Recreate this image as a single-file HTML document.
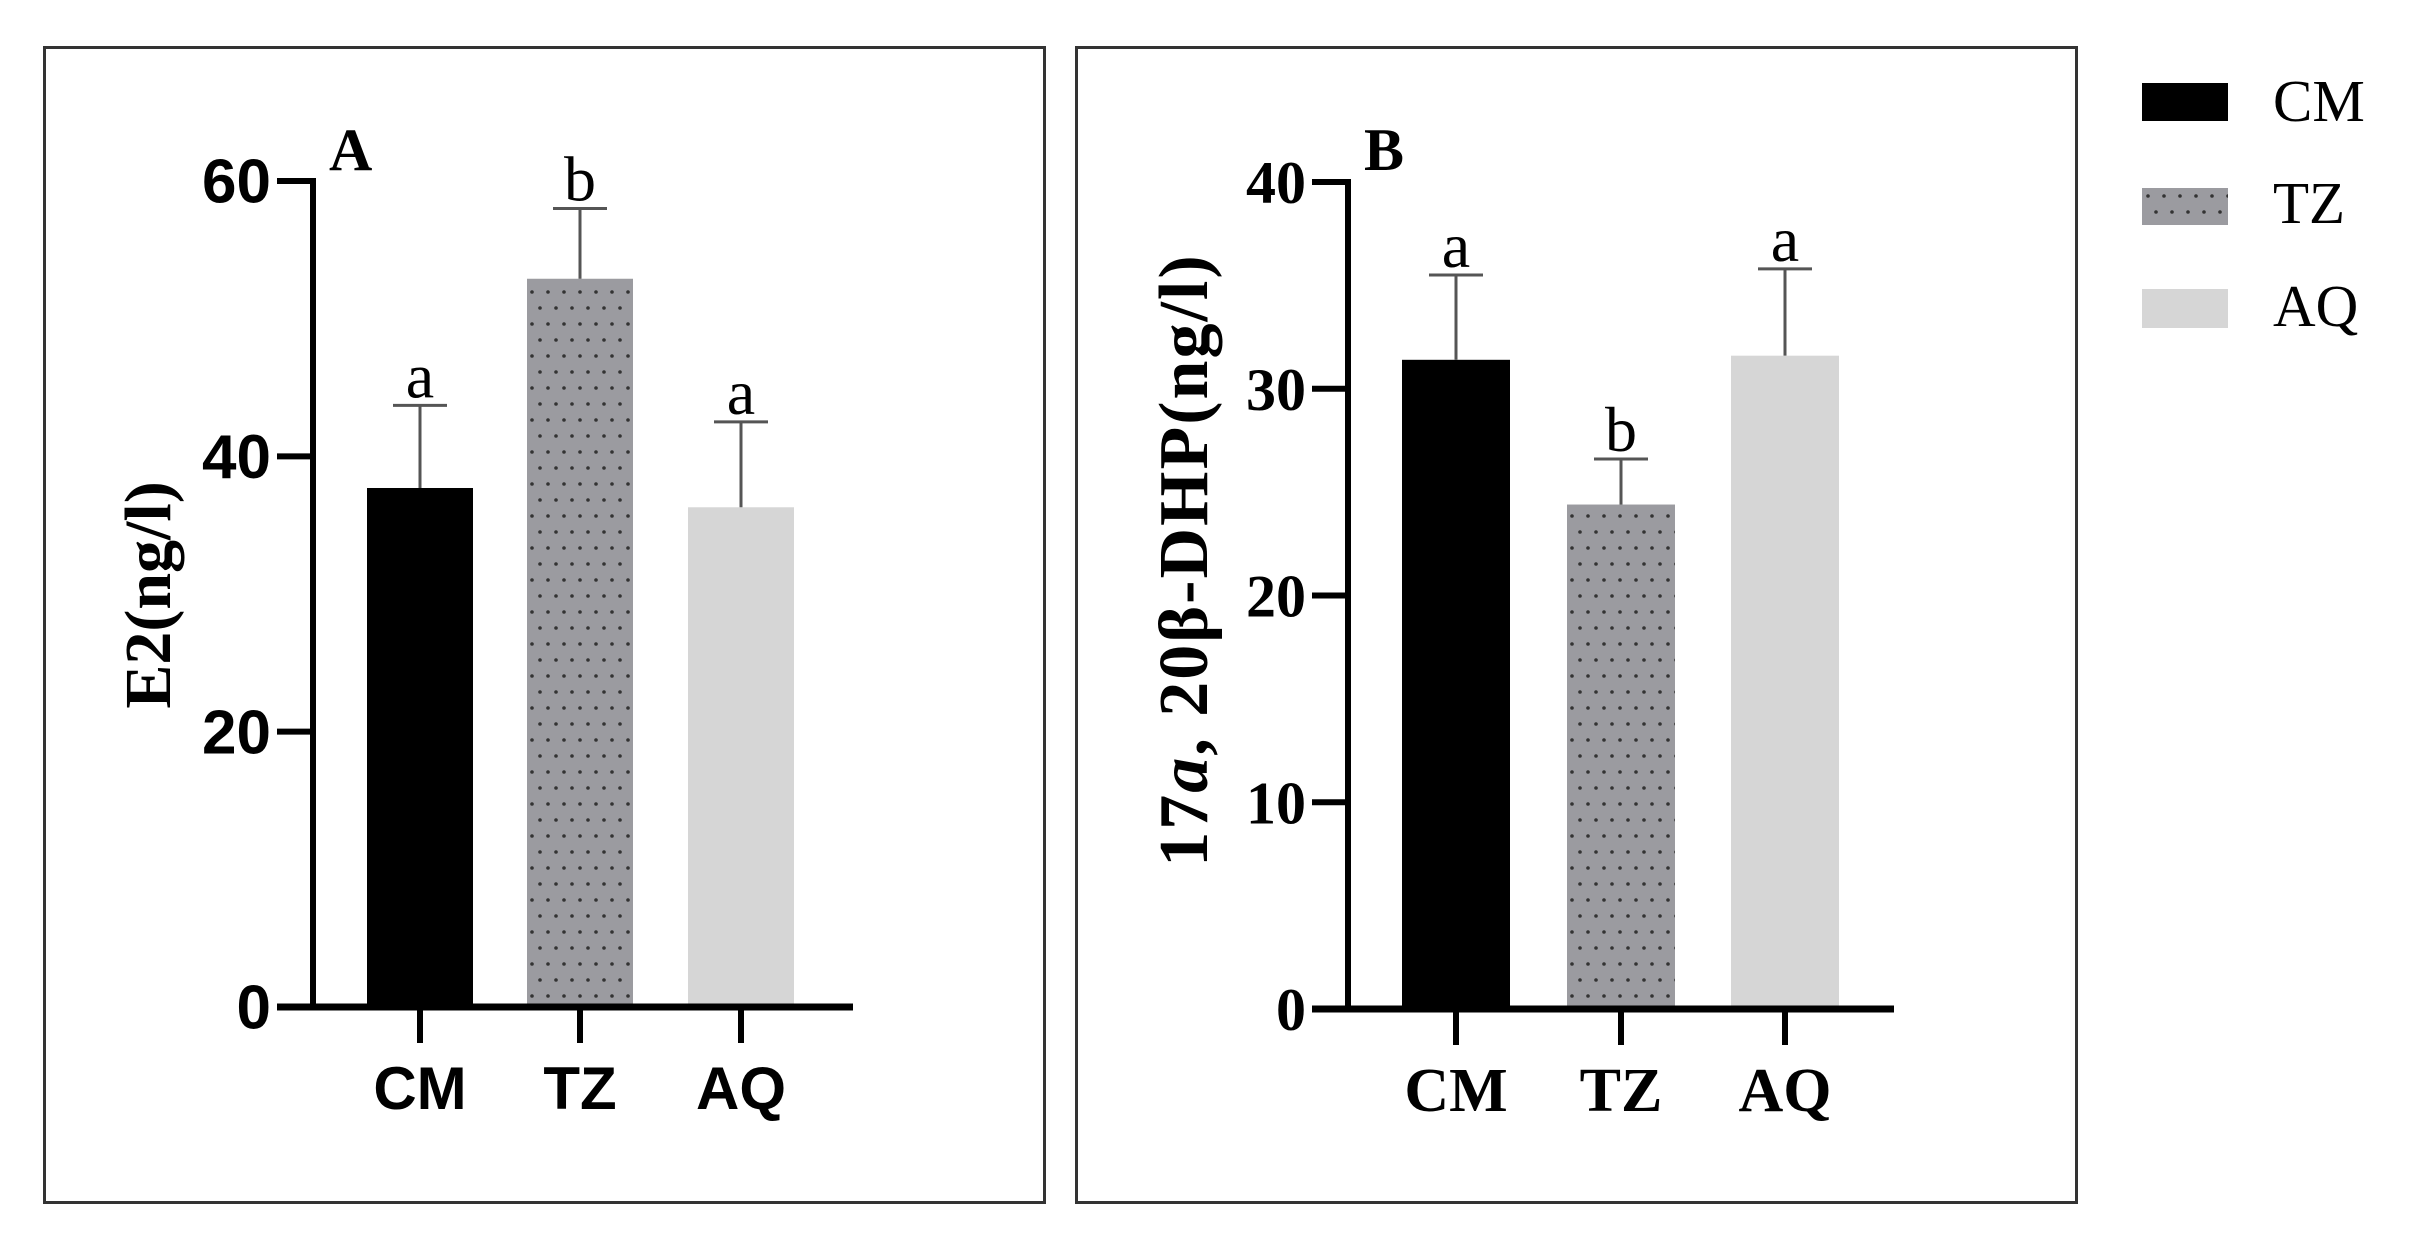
<!DOCTYPE html>
<html><head><meta charset="utf-8"><style>
html,body{margin:0;padding:0;background:#fff;}
svg{display:block;}
</style></head><body>
<svg id="fig" width="2409" height="1248" viewBox="0 0 2409 1248" xmlns="http://www.w3.org/2000/svg">
<defs>
<pattern id="dots" width="16" height="32" patternUnits="userSpaceOnUse">
<rect width="16" height="32" fill="#9b9ba0"/>
<circle cx="4" cy="4" r="1.8" fill="#333"/>
<circle cx="12" cy="20" r="1.8" fill="#333"/>
</pattern>
</defs>
<rect x="44.5" y="47.5" width="1000" height="1155" fill="none" stroke="#333" stroke-width="3"/>
<rect x="1076.5" y="47.5" width="1000" height="1155" fill="none" stroke="#333" stroke-width="3"/>
<g id="pa"></g>
<g id="pb"></g>
<g>
<rect x="2142" y="83" width="86" height="38" fill="#000"/>
<text x="2273" y="121" font-family="Liberation Serif, serif" font-size="59">CM</text>
<rect x="2142" y="188" width="86" height="37" fill="url(#dots)"/>
<text x="2273" y="223" font-family="Liberation Serif, serif" font-size="59">TZ</text>
<rect x="2142" y="289" width="86" height="39" fill="#d6d6d6"/>
<text x="2273" y="326" font-family="Liberation Serif, serif" font-size="59">AQ</text>
</g>
</svg>
<script>
const categories = ["CM", "TZ", "AQ"];
const valuesA = [37.7, 52.9, 36.3];
const errorsA = [6.0, 5.1, 6.2];
const lettersA = ["a", "b", "a"];
const ticksA = [0, 20, 40, 60];
const valuesB = [31.4, 24.4, 31.6];
const errorsB = [4.1, 2.2, 4.2];
const lettersB = ["a", "b", "a"];
const ticksB = [0, 10, 20, 30, 40];
const fills = ["#000", "url(#dots)", "#d6d6d6"];
const NS = "http://www.w3.org/2000/svg";
function mk(parent, tag, attrs, text) {
  const e = document.createElementNS(NS, tag);
  for (const k in attrs) e.setAttribute(k, attrs[k]);
  if (text !== undefined) e.textContent = text;
  parent.appendChild(e);
  return e;
}
function panel(g, cfg, values, errors, letters, ticks) {
  const y = v => cfg.y0 - (v / cfg.max) * (cfg.y0 - cfg.yTop);
  const xc = i => cfg.centers[i];
  values.forEach((v, i) => {
    const b = mk(g, "rect", {x: xc(i) - cfg.bw / 2, y: y(v), width: cfg.bw, height: cfg.y0 - y(v), fill: fills[i]});
    
    
    const top = y(v + errors[i]);
    const e1 = mk(g, "line", {x1: xc(i), x2: xc(i), y1: y(v), y2: top, stroke: "#555", "stroke-width": 3});
    
    
    const e2 = mk(g, "line", {x1: xc(i) - 27, x2: xc(i) + 27, y1: top, y2: top, stroke: "#555", "stroke-width": 3});
    
    
    const l = mk(g, "text", {x: xc(i), y: top - 8, "text-anchor": "middle", "font-family": "Liberation Serif, serif", "font-size": 64}, letters[i]);
    
    
  });
  const ya = mk(g, "line", {x1: cfg.ax, x2: cfg.ax, y1: cfg.yTop - 3, y2: cfg.y0 + 3, stroke: "#000", "stroke-width": 6});
  
  
  const xa = mk(g, "line", {x1: cfg.xL, x2: cfg.xR, y1: cfg.y0, y2: cfg.y0, stroke: "#000", "stroke-width": 7});
  
  
  ticks.forEach(t => {
    const tk = mk(g, "line", {x1: cfg.xL, x2: cfg.ax, y1: y(t), y2: y(t), stroke: "#000", "stroke-width": 6});
    
    
    const tl = mk(g, "text", {x: cfg.xL - 6, y: y(t) + cfg.tickFs * 0.35, "text-anchor": "end", "font-family": cfg.tickFont, "font-weight": "bold", "font-size": cfg.tickFs}, String(t));
    
    
  });
  categories.forEach((c, i) => {
    const tk = mk(g, "line", {x1: xc(i), x2: xc(i), y1: cfg.y0, y2: cfg.y0 + 36, stroke: "#000", "stroke-width": 6});
    
    
    const tl = mk(g, "text", {x: xc(i), y: cfg.y0 + 102, "text-anchor": "middle", "font-family": cfg.catFont, "font-weight": "bold", "font-size": cfg.catFs}, c);
    
    
  });
  const pl = mk(g, "text", {x: cfg.ax + 16, y: 170, "font-family": "Liberation Serif, serif", "font-weight": "bold", "font-size": 60}, cfg.panelLabel);
  
  
  const ttl = mk(g, "text", {x: 0, y: 0, "text-anchor": "middle", "font-family": "Liberation Serif, serif", "font-weight": "bold", "font-size": cfg.titleFs, "letter-spacing": cfg.ls || 0, transform: "translate(" + cfg.titleX + "," + cfg.titleY + ") rotate(-90)"});
  
  
  cfg.title.forEach(part => {
    mk(ttl, "tspan", part.italic ? {"font-style": "italic"} : {}, part.t);
  });
}
panel(document.getElementById("pa"), {y0: 1007, yTop: 181, max: 60, ax: 313, xL: 277, xR: 853, bw: 106, centers: [420, 580, 741], tickFont: "Liberation Sans, sans-serif", tickFs: 62, catFont: "Liberation Sans, sans-serif", catFs: 60, panelLabel: "A", title: [{t: "E2(ng/l)"}], titleFs: 66, titleX: 170, titleY: 595}, valuesA, errorsA, lettersA, ticksA);
panel(document.getElementById("pb"), {y0: 1009, yTop: 182, max: 40, ax: 1348, xL: 1312, xR: 1894, bw: 108, centers: [1456, 1621, 1785], tickFont: "Liberation Serif, serif", tickFs: 60, catFont: "Liberation Serif, serif", catFs: 62, panelLabel: "B", title: [{t: "17"}, {t: "a", italic: true}, {t: ", 20β-DHP(ng/l)"}], titleFs: 70, ls: 2, titleX: 1207, titleY: 560}, valuesB, errorsB, lettersB, ticksB);
</script>
</body></html>
